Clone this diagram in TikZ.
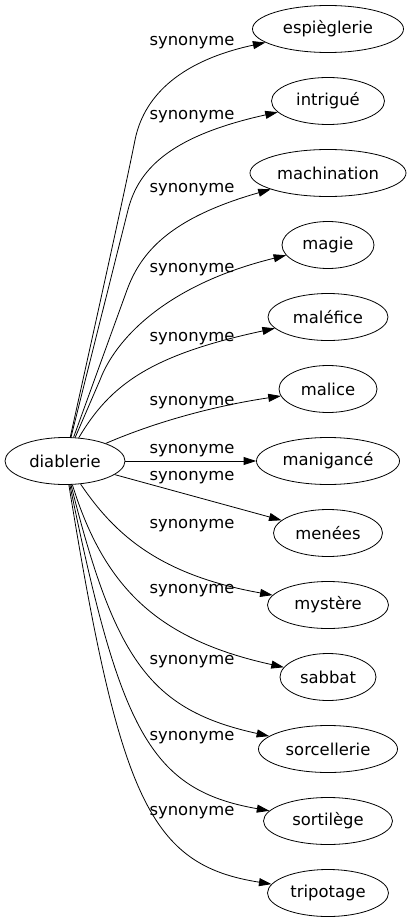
\documentclass[tikz,border=0pt]{standalone}
\usepackage{fontspec}
\setmainfont{DejaVu Sans}
\usetikzlibrary{shapes.geometric}
\usetikzlibrary{arrows.meta}

\begin{document}
\begin{tikzpicture}[x=1pt,y=-1pt,line join=round,line width=0.8pt,>={Triangle[length=12.5pt,width=8pt]},
  word/.style={draw,ellipse,inner sep=0pt,minimum height=47pt,font=\fontsize{16.4}{19}\selectfont},
  synlab/.style={inner sep=0pt,font=\fontsize{16.4}{19}\selectfont}]
\useasboundingbox (0,0) rectangle (412,923);

\node[word,minimum width=120pt] (diablerie) at (65,461) {diablerie};

\node[word,minimum width=151pt] (espieglerie) at (328,29) {espièglerie};
\node[word,minimum width=113pt] (intrigue) at (328,101) {intrigué};
\node[word,minimum width=156pt] (machination) at (328,173) {machination};
\node[word,minimum width=92pt] (magie) at (328,245) {magie};
\node[word,minimum width=120pt] (malefice) at (328,317) {maléfice};
\node[word,minimum width=98pt] (malice) at (328,389) {malice};
\node[word,minimum width=143pt] (manigance) at (328,461) {manigancé};
\node[word,minimum width=109pt] (menees) at (328,533) {menées};
\node[word,minimum width=121pt] (mystere) at (328,605) {mystère};
\node[word,minimum width=96pt] (sabbat) at (328,677) {sabbat};
\node[word,minimum width=139pt] (sorcellerie) at (328,749) {sorcellerie};
\node[word,minimum width=129pt] (sortilege) at (328,821) {sortilège};
\node[word,minimum width=121pt] (tripotage) at (328,893) {tripotage};

% edges above
\draw[->] (diablerie) .. controls (105,280) and (125,190) .. (135,140) .. controls (143,100) and (175,62) .. (espieglerie);
\draw[->] (diablerie) -- (128,210) .. controls (139,166) and (175,135) .. (intrigue);
\draw[->] (diablerie) -- (127,290) .. controls (141,252) and (170,218) .. (machination);
\draw[->] (diablerie) -- (100,380) .. controls (115,340) and (165,285) .. (magie);
\draw[->] (diablerie) .. controls (110,385) and (150,355) .. (malefice);
\draw[->] (diablerie) .. controls (160,420) and (220,405) .. (malice);
\draw[->] (diablerie) -- (manigance);
% edges below
\draw[->] (diablerie) -- (menees);
\draw[->] (diablerie) .. controls (115,535) and (160,575) .. (mystere);
\draw[->] (diablerie) .. controls (105,590) and (160,640) .. (sabbat);
\draw[->] (diablerie) .. controls (115,660) and (150,710) .. (sorcellerie);
\draw[->] (diablerie) .. controls (120,730) and (150,790) .. (sortilege);
\draw[->] (diablerie) .. controls (120,800) and (150,865) .. (tripotage);

\node[synlab] (l1) at (192,43) {synonyme};
\node[synlab] (l2) at (192,117) {synonyme};
\node[synlab] (l3) at (192,190) {synonyme};
\node[synlab] (l4) at (192,270) {synonyme};
\node[synlab] (l5) at (192,339) {synonyme};
\node[synlab] (l6) at (192,403) {synonyme};
\node[synlab] (l7) at (192,451) {synonyme};
\node[synlab] (l8) at (192,478) {synonyme};
\node[synlab] (l9) at (192,526) {synonyme};
\node[synlab] (l10) at (192,591) {synonyme};
\node[synlab] (l11) at (192,662) {synonyme};
\node[synlab] (l12) at (192,738) {synonyme};
\node[synlab] (l13) at (192,813) {synonyme};
\end{tikzpicture}
\end{document}
